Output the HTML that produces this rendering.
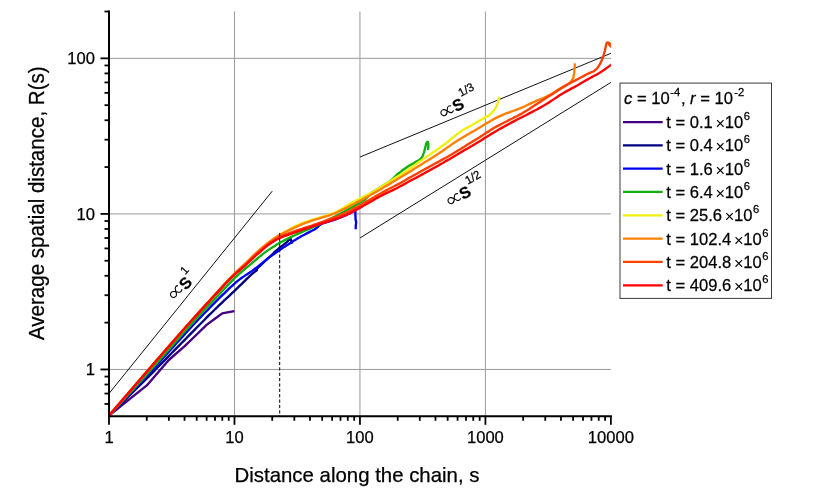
<!DOCTYPE html>
<html><head><meta charset="utf-8"><title>chart</title>
<style>html,body{margin:0;padding:0;background:#fff}svg{display:block;will-change:transform;opacity:0.999}text{font-family:"Liberation Sans",sans-serif;fill:#000;stroke:#000;stroke-width:0.25px}</style></head><body>
<svg width="830" height="503" viewBox="0 0 830 503">
<rect width="830" height="503" fill="#fff"/>
<g stroke="#9a9a9a" stroke-width="1" fill="none">
<line x1="234.47" y1="11.52" x2="234.47" y2="416.28"/>
<line x1="359.94" y1="11.52" x2="359.94" y2="416.28"/>
<line x1="485.41" y1="11.52" x2="485.41" y2="416.28"/>
<line x1="109.00" y1="369.45" x2="610.88" y2="369.45"/>
<line x1="109.00" y1="213.90" x2="610.88" y2="213.90"/>
<line x1="109.00" y1="58.35" x2="610.88" y2="58.35"/>
</g>
<clipPath id="cp"><rect x="109.00" y="9.52" width="501.88" height="406.75"/></clipPath>
<g stroke="#111" stroke-width="1" fill="none">
<line x1="109.00" y1="393.54" x2="272.24" y2="191.17"/>
<line x1="359.94" y1="157.05" x2="610.88" y2="53.35"/>
<line x1="359.94" y1="237.99" x2="610.88" y2="82.44"/>
</g>
<g fill="none" stroke-width="2.35" stroke-linejoin="round" stroke-linecap="butt" clip-path="url(#cp)">
<path d="M109.0 415.6 L146.8 385.4 L168.8 360.0 L184.7 346.1 L196.7 334.5 L206.6 324.9 L214.9 318.7 L222.2 313.4 L228.7 312.2 L234.4 311.2" stroke="#45007f"/>
<path d="M109.0 415.6 L146.8 378.3 L149.3 375.8 L151.8 373.3 L154.3 370.8 L156.8 368.2 L159.3 365.7 L161.8 363.1 L164.3 360.6 L166.8 358.1 L169.3 355.5 L171.8 353.0 L174.3 350.4 L176.8 347.9 L179.3 345.4 L181.8 342.8 L184.3 340.3 L186.8 337.7 L189.3 335.2 L191.8 332.6 L194.3 330.1 L196.8 327.5 L199.3 325.0 L201.8 322.5 L204.3 320.0 L206.8 317.4 L209.3 314.9 L211.8 312.5 L214.3 310.0 L216.8 307.6 L219.3 305.2 L221.8 302.8 L224.3 300.4 L226.8 298.1 L229.3 295.8 L231.8 293.4 L234.3 291.1 L236.8 288.7 L239.3 286.2 L241.8 283.8 L244.3 281.3 L246.8 278.9 L249.3 276.5 L251.8 274.2 L254.3 272.1 L256.8 270.2 L256.9 268.6 L261.0 265.0 L265.0 261.2 L270.0 256.5 L273.7 253.0 L276.5 250.5 L279.6 247.6 L283.0 245.2 L285.0 243.6 L287.0 241.9 L288.8 240.2 L290.3 238.6 L291.2 240.5 L292.3 243.6" stroke="#000080"/>
<path d="M109.0 415.6 L146.8 376.0 L149.3 373.3 L151.8 370.5 L154.3 367.8 L156.8 365.0 L159.3 362.2 L161.8 359.5 L164.3 356.7 L166.8 353.9 L169.3 351.1 L171.8 348.4 L174.3 345.6 L176.8 342.8 L179.3 340.1 L181.8 337.4 L184.3 334.6 L186.8 331.9 L189.3 329.2 L191.8 326.5 L194.3 323.8 L196.8 321.2 L199.3 318.5 L201.8 315.9 L204.3 313.3 L206.8 310.8 L209.3 308.2 L211.8 305.6 L214.3 303.1 L216.8 300.6 L219.3 298.2 L221.8 295.7 L224.3 293.3 L226.8 290.8 L229.3 288.4 L231.8 286.1 L234.3 283.8 L236.8 281.6 L239.3 279.6 L241.8 277.8 L244.3 276.1 L246.8 274.4 L249.3 272.8 L251.8 271.1 L254.3 269.3 L256.8 267.4 L259.3 265.4 L261.8 263.4 L264.3 261.3 L266.8 259.3 L269.3 257.4 L271.8 255.6 L274.3 253.8 L276.8 252.0 L279.3 250.3 L281.8 248.6 L284.3 246.9 L286.8 245.3 L289.3 243.7 L291.8 242.1 L294.3 240.4 L296.8 238.9 L299.3 237.5 L301.8 236.0 L304.3 234.7 L306.8 233.4 L309.3 232.1 L311.8 230.8 L314.3 229.6 L316.8 227.8 L319.3 225.4 L321.8 223.7 L324.3 222.9 L326.8 222.2 L329.3 221.4 L331.8 220.6 L334.3 219.8 L336.8 218.9 L339.3 218.0 L341.8 216.9 L344.3 215.9 L346.8 214.8 L349.3 213.6 L351.8 212.3 L354.3 210.8 L355.3 209.9 L355.4 214.4 L355.6 219.9 L356.2 221.9 L355.8 225.4 L355.7 229.2" stroke="#0000f0"/>
<path d="M109.0 415.6 L146.8 374.4 L149.3 371.6 L151.8 368.8 L154.3 365.9 L156.8 363.1 L159.3 360.3 L161.8 357.4 L164.3 354.6 L166.8 351.7 L169.3 348.9 L171.8 346.1 L174.3 343.2 L176.8 340.4 L179.3 337.6 L181.8 334.8 L184.3 332.0 L186.8 329.2 L189.3 326.4 L191.8 323.6 L194.3 320.9 L196.8 318.1 L199.3 315.4 L201.8 312.6 L204.3 309.9 L206.8 307.2 L209.3 304.6 L211.8 302.0 L214.3 299.4 L216.8 296.7 L219.3 294.1 L221.8 291.5 L224.3 288.9 L226.8 286.3 L229.3 283.6 L231.8 281.1 L234.3 278.5 L236.8 276.1 L239.3 273.9 L241.8 271.6 L244.3 269.5 L246.8 267.4 L249.3 265.4 L251.8 263.3 L254.3 261.2 L256.8 259.0 L259.3 256.9 L261.8 254.9 L264.3 252.9 L266.8 251.1 L269.3 249.4 L271.8 247.7 L274.3 246.2 L276.8 244.6 L279.3 243.1 L281.8 241.7 L284.3 240.4 L286.8 239.1 L289.3 237.8 L291.8 236.6 L294.3 235.5 L296.8 234.3 L299.3 233.2 L301.8 232.1 L304.3 231.0 L306.8 229.9 L309.3 228.8 L311.8 227.7 L314.3 226.5 L316.8 225.4 L319.3 224.3 L321.8 223.1 L324.3 221.9 L326.8 220.6 L329.3 219.3 L331.8 218.1 L334.3 216.8 L336.8 215.5 L339.3 214.2 L341.8 212.8 L344.3 211.5 L346.8 210.1 L349.3 208.7 L351.8 207.3 L354.3 205.9 L356.8 204.5 L359.3 203.0 L361.8 201.5 L364.3 200.0 L366.8 197.9 L369.3 195.1 L371.8 192.6 L374.3 191.1 L376.8 189.6 L379.3 188.0 L381.8 186.4 L384.3 184.8 L386.8 183.3 L389.3 181.7 L391.8 179.8 L394.3 177.3 L396.8 174.7 L399.3 172.8 L401.8 170.8 L404.3 169.0 L406.8 167.2 L409.3 165.6 L411.8 164.2 L414.3 163.1 L414.8 162.2 L418.8 160.4 L421.6 158.0 L423.1 155.0 L424.1 152.0 L425.4 147.0 L426.3 143.4 L427.2 142.0 L428.0 142.0 L428.4 145.0 L428.0 150.0" stroke="#10b010"/>
<path d="M109.0 415.6 L146.8 371.6 L149.3 368.8 L151.8 365.9 L154.3 363.0 L156.8 360.1 L159.3 357.3 L161.8 354.4 L164.3 351.5 L166.8 348.7 L169.3 345.8 L171.8 342.9 L174.3 340.1 L176.8 337.3 L179.3 334.4 L181.8 331.6 L184.3 328.8 L186.8 326.0 L189.3 323.1 L191.8 320.3 L194.3 317.6 L196.8 314.8 L199.3 312.0 L201.8 309.2 L204.3 306.4 L206.8 303.7 L209.3 301.0 L211.8 298.2 L214.3 295.5 L216.8 292.8 L219.3 290.0 L221.8 287.2 L224.3 284.4 L226.8 281.7 L229.3 279.1 L231.8 276.5 L234.3 273.9 L236.8 271.5 L239.3 269.1 L241.8 266.8 L244.3 264.5 L246.8 262.1 L249.3 259.6 L251.8 257.2 L254.3 254.8 L256.8 252.5 L259.3 250.3 L261.8 248.1 L264.3 245.9 L266.8 243.9 L269.3 242.0 L271.8 240.2 L274.3 238.4 L276.8 236.8 L279.3 235.2 L281.8 233.8 L284.3 232.3 L286.8 230.9 L289.3 229.4 L291.8 227.9 L294.3 226.7 L296.8 225.6 L299.3 224.4 L301.8 223.4 L304.3 222.4 L306.8 221.5 L309.3 220.7 L311.8 219.9 L314.3 219.1 L316.8 218.4 L319.3 217.6 L321.8 216.9 L324.3 216.1 L326.8 215.4 L329.3 214.6 L331.8 213.7 L334.3 212.8 L336.8 211.6 L339.3 210.2 L341.8 208.7 L344.3 207.2 L346.8 205.7 L349.3 204.2 L351.8 202.8 L354.3 201.5 L356.8 200.1 L359.3 198.8 L361.8 197.5 L364.3 196.3 L366.8 195.1 L369.3 193.8 L371.8 192.5 L374.3 191.1 L376.8 189.6 L379.3 188.0 L381.8 186.4 L384.3 184.8 L386.8 183.3 L389.3 181.7 L391.8 180.2 L394.3 178.6 L396.8 177.1 L399.3 175.6 L401.8 174.0 L404.3 172.4 L406.8 170.7 L409.3 169.0 L411.8 167.2 L414.3 165.4 L416.8 163.6 L419.3 161.8 L421.8 160.1 L424.3 158.4 L426.8 156.6 L429.3 154.9 L431.8 153.2 L434.3 151.5 L436.8 149.8 L439.3 148.1 L441.8 146.3 L444.3 144.5 L446.8 142.6 L449.3 140.5 L451.8 138.4 L454.3 136.4 L456.8 134.4 L459.3 132.5 L461.8 130.8 L464.3 129.3 L466.8 127.9 L469.3 126.5 L471.8 125.2 L474.3 123.8 L476.8 122.3 L479.3 120.8 L481.8 119.4 L484.3 117.9 L486.8 116.6 L489.3 115.4 L489.9 114.3 L492.0 112.5 L493.9 110.4 L495.4 108.2 L496.4 106.4 L497.3 104.1 L497.9 102.4 L498.9 98.9 L499.4 96.9" stroke="#f0f010"/>
<path d="M109.0 415.6 L146.8 371.6 L149.3 368.7 L151.8 365.8 L154.3 362.9 L156.8 360.0 L159.3 357.2 L161.8 354.3 L164.3 351.4 L166.8 348.6 L169.3 345.7 L171.8 342.8 L174.3 340.0 L176.8 337.2 L179.3 334.3 L181.8 331.5 L184.3 328.7 L186.8 325.9 L189.3 323.0 L191.8 320.2 L194.3 317.5 L196.8 314.7 L199.3 311.9 L201.8 309.1 L204.3 306.3 L206.8 303.6 L209.3 300.9 L211.8 298.1 L214.3 295.4 L216.8 292.7 L219.3 289.9 L221.8 287.1 L224.3 284.3 L226.8 281.6 L229.3 279.0 L231.8 276.4 L234.3 273.8 L236.8 271.4 L239.3 269.0 L241.8 266.7 L244.3 264.4 L246.8 262.0 L249.3 259.5 L251.8 257.1 L254.3 254.7 L256.8 252.4 L259.3 250.2 L261.8 248.0 L264.3 245.8 L266.8 243.8 L269.3 241.9 L271.8 240.1 L274.3 238.3 L276.8 236.7 L279.3 235.1 L281.8 233.8 L284.3 232.5 L286.8 231.3 L289.3 230.1 L291.8 228.9 L294.3 227.7 L296.8 226.6 L299.3 225.5 L301.8 224.4 L304.3 223.4 L306.8 222.5 L309.3 221.6 L311.8 220.7 L314.3 219.9 L316.8 219.1 L319.3 218.4 L321.8 217.6 L324.3 216.8 L326.8 216.1 L329.3 215.3 L331.8 214.4 L334.3 213.5 L336.8 212.5 L339.3 211.3 L341.8 210.1 L344.3 208.8 L346.8 207.6 L349.3 206.3 L351.8 205.0 L354.3 203.8 L356.8 202.4 L359.3 201.1 L361.8 199.7 L364.3 198.4 L366.8 197.0 L369.3 195.7 L371.8 194.3 L374.3 192.9 L376.8 191.5 L379.3 190.0 L381.8 188.6 L384.3 187.1 L386.8 185.6 L389.3 184.2 L391.8 182.6 L394.3 181.1 L396.8 179.6 L399.3 178.1 L401.8 176.6 L404.3 175.0 L406.8 173.5 L409.3 171.9 L411.8 170.4 L414.3 168.8 L416.8 167.2 L419.3 165.7 L421.8 164.2 L424.3 162.6 L426.8 161.1 L429.3 159.5 L431.8 158.0 L434.3 156.4 L436.8 154.8 L439.3 153.1 L441.8 151.5 L444.3 149.7 L446.8 147.9 L449.3 146.2 L451.8 144.4 L454.3 142.7 L456.8 141.1 L459.3 139.5 L461.8 138.0 L464.3 136.4 L466.8 134.9 L469.3 133.5 L471.8 132.1 L474.3 130.7 L476.8 129.2 L479.3 127.7 L481.8 126.2 L484.3 124.6 L486.8 123.1 L489.3 121.7 L491.8 120.2 L494.3 118.9 L496.8 117.6 L499.3 116.4 L501.8 115.3 L504.3 114.2 L506.8 113.2 L509.3 112.3 L511.8 111.4 L514.3 110.5 L516.8 109.6 L519.3 108.7 L521.8 107.6 L524.3 106.5 L526.8 105.3 L529.3 104.1 L531.8 102.9 L534.3 101.8 L536.8 100.7 L539.3 99.7 L541.8 98.7 L544.3 97.6 L546.8 96.4 L549.3 95.1 L551.8 93.7 L554.3 92.2 L556.8 90.6 L559.3 89.0 L561.8 87.4 L564.3 86.0 L566.8 84.7 L569.3 83.5 L570.0 82.5 L572.0 80.4 L573.4 77.5 L574.2 72.7 L574.6 68.2 L574.9 63.4" stroke="#ff8000"/>
<path d="M109.0 415.6 L146.8 371.7 L149.3 368.8 L151.8 365.9 L154.3 363.0 L156.8 360.1 L159.3 357.3 L161.8 354.4 L164.3 351.5 L166.8 348.6 L169.3 345.8 L171.8 342.9 L174.3 340.1 L176.8 337.2 L179.3 334.4 L181.8 331.5 L184.3 328.7 L186.8 325.9 L189.3 323.1 L191.8 320.3 L194.3 317.5 L196.8 314.7 L199.3 311.9 L201.8 309.2 L204.3 306.4 L206.8 303.7 L209.3 301.0 L211.8 298.3 L214.3 295.6 L216.8 292.8 L219.3 290.1 L221.8 287.4 L224.3 284.6 L226.8 282.0 L229.3 279.4 L231.8 276.9 L234.3 274.4 L236.8 272.1 L239.3 269.8 L241.8 267.7 L244.3 265.5 L246.8 263.2 L249.3 260.8 L251.8 258.4 L254.3 256.1 L256.8 253.8 L259.3 251.7 L261.8 249.4 L264.3 247.3 L266.8 245.2 L269.3 243.3 L271.8 241.6 L274.3 240.0 L276.8 238.4 L279.3 237.0 L281.8 235.8 L284.3 234.8 L286.8 233.8 L289.3 233.0 L291.8 232.2 L294.3 231.3 L296.8 230.4 L299.3 229.6 L301.8 228.8 L304.3 227.9 L306.8 227.1 L309.3 226.3 L311.8 225.5 L314.3 224.6 L316.8 223.8 L319.3 222.9 L321.8 222.0 L324.3 221.1 L326.8 220.2 L329.3 219.3 L331.8 218.4 L334.3 217.4 L336.8 216.5 L339.3 215.5 L341.8 214.4 L344.3 213.3 L346.8 212.2 L349.3 211.0 L351.8 209.7 L354.3 208.4 L356.8 207.1 L359.3 205.7 L361.8 204.2 L364.3 202.8 L366.8 201.4 L369.3 200.0 L371.8 198.5 L374.3 197.1 L376.8 195.6 L379.3 194.2 L381.8 192.8 L384.3 191.4 L386.8 190.1 L389.3 188.8 L391.8 187.5 L394.3 186.3 L396.8 184.9 L399.3 183.6 L401.8 182.2 L404.3 180.8 L406.8 179.3 L409.3 177.9 L411.8 176.5 L414.3 175.1 L416.8 173.7 L419.3 172.3 L421.8 170.9 L424.3 169.5 L426.8 168.1 L429.3 166.7 L431.8 165.4 L434.3 164.0 L436.8 162.6 L439.3 161.3 L441.8 159.9 L444.3 158.5 L446.8 157.2 L449.3 155.7 L451.8 154.3 L454.3 152.8 L456.8 151.3 L459.3 149.8 L461.8 148.2 L464.3 146.7 L466.8 145.1 L469.3 143.6 L471.8 142.0 L474.3 140.4 L476.8 138.9 L479.3 137.4 L481.8 135.8 L484.3 134.1 L486.8 132.5 L489.3 130.9 L491.8 129.3 L494.3 127.8 L496.8 126.4 L499.3 125.1 L501.8 123.8 L504.3 122.5 L506.8 121.2 L509.3 119.9 L511.8 118.7 L514.3 117.4 L516.8 116.2 L519.3 114.9 L521.8 113.6 L524.3 112.1 L526.8 110.6 L529.3 109.0 L531.8 107.3 L534.3 105.6 L536.8 104.0 L539.3 102.4 L541.8 100.8 L544.3 99.2 L546.8 97.6 L549.3 96.0 L551.8 94.4 L554.3 92.8 L556.8 91.2 L559.3 89.5 L561.8 87.9 L564.3 86.4 L566.8 84.9 L569.3 83.5 L571.8 82.2 L574.3 80.9 L576.8 79.6 L579.3 78.3 L581.8 77.0 L584.3 75.6 L586.8 74.3 L589.3 73.1 L591.8 72.0 L594.3 71.1 L594.8 70.3 L596.8 68.9 L599.8 64.4 L602.8 58.0 L604.8 51.0 L606.3 43.7 L607.2 42.5 L608.5 42.6 L609.7 43.4 L611.5 45.0 L611.5 46.5 L609.2 44.6 L611.5 47.2" stroke="#ff4000"/>
<path d="M109.0 415.6 L146.8 371.8 L149.3 368.9 L151.8 366.0 L154.3 363.1 L156.8 360.2 L159.3 357.4 L161.8 354.5 L164.3 351.6 L166.8 348.7 L169.3 345.9 L171.8 343.0 L174.3 340.2 L176.8 337.3 L179.3 334.5 L181.8 331.6 L184.3 328.8 L186.8 326.0 L189.3 323.2 L191.8 320.4 L194.3 317.6 L196.8 314.9 L199.3 312.1 L201.8 309.4 L204.3 306.6 L206.8 303.9 L209.3 301.2 L211.8 298.5 L214.3 295.8 L216.8 293.1 L219.3 290.4 L221.8 287.7 L224.3 285.0 L226.8 282.4 L229.3 279.9 L231.8 277.4 L234.3 275.0 L236.8 272.7 L239.3 270.5 L241.8 268.4 L244.3 266.3 L246.8 264.0 L249.3 261.6 L251.8 259.3 L254.3 257.0 L256.8 254.7 L259.3 252.6 L261.8 250.3 L264.3 248.2 L266.8 246.1 L269.3 244.3 L271.8 242.6 L274.3 241.0 L276.8 239.5 L279.3 238.2 L281.8 237.1 L284.3 236.1 L286.8 235.3 L289.3 234.4 L291.8 233.7 L294.3 232.7 L296.8 231.8 L299.3 230.9 L301.8 230.0 L304.3 229.2 L306.8 228.3 L309.3 227.5 L311.8 226.6 L314.3 225.8 L316.8 225.0 L319.3 224.2 L321.8 223.4 L324.3 222.7 L326.8 222.0 L329.3 221.2 L331.8 220.4 L334.3 219.6 L336.8 218.7 L339.3 217.8 L341.8 216.7 L344.3 215.7 L346.8 214.6 L349.3 213.4 L351.8 212.1 L354.3 210.9 L356.8 209.5 L359.3 208.1 L361.8 206.7 L364.3 205.3 L366.8 203.9 L369.3 202.5 L371.8 201.0 L374.3 199.6 L376.8 198.1 L379.3 196.7 L381.8 195.4 L384.3 194.1 L386.8 192.9 L389.3 191.8 L391.8 190.6 L394.3 189.4 L396.8 188.2 L399.3 186.8 L401.8 185.5 L404.3 184.1 L406.8 182.7 L409.3 181.3 L411.8 180.0 L414.3 178.7 L416.8 177.4 L419.3 176.0 L421.8 174.6 L424.3 173.3 L426.8 171.9 L429.3 170.5 L431.8 169.1 L434.3 167.8 L436.8 166.4 L439.3 164.9 L441.8 163.5 L444.3 162.1 L446.8 160.6 L449.3 159.2 L451.8 157.7 L454.3 156.2 L456.8 154.8 L459.3 153.3 L461.8 151.8 L464.3 150.3 L466.8 148.9 L469.3 147.4 L471.8 146.0 L474.3 144.5 L476.8 143.0 L479.3 141.5 L481.8 139.9 L484.3 138.3 L486.8 136.7 L489.3 135.2 L491.8 133.6 L494.3 132.2 L496.8 130.7 L499.3 129.3 L501.8 127.9 L504.3 126.5 L506.8 125.1 L509.3 123.7 L511.8 122.4 L514.3 121.1 L516.8 119.8 L519.3 118.5 L521.8 117.3 L524.3 116.0 L526.8 114.7 L529.3 113.4 L531.8 112.1 L534.3 110.8 L536.8 109.5 L539.3 108.1 L541.8 106.7 L544.3 105.3 L546.8 103.8 L549.3 102.2 L551.8 100.6 L554.3 98.9 L556.8 97.2 L559.3 95.6 L561.8 94.0 L564.3 92.5 L566.8 91.1 L569.3 89.7 L571.8 88.4 L574.3 87.1 L576.8 85.7 L579.3 84.3 L581.8 82.8 L584.3 81.3 L586.8 79.9 L589.3 78.5 L591.8 77.1 L594.3 75.8 L596.8 74.5 L599.3 73.0 L601.8 71.4 L604.3 69.7 L606.8 67.9 L609.3 66.1 L611.5 64.3" stroke="#ff0000"/>
</g>
<line x1="279.7" y1="233" x2="279.7" y2="416.28" stroke="#000" stroke-width="1" stroke-dasharray="3.3 2.07"/>
<g stroke="#000" stroke-width="2" fill="none">
<line x1="109.00" y1="10.52" x2="109.00" y2="417.28"/>
<line x1="108.00" y1="416.28" x2="611.88" y2="416.28"/>
</g>
<g stroke="#000" stroke-width="1.8" fill="none">
<line x1="109.00" y1="416.28" x2="109.00" y2="424.78"/>
<line x1="146.77" y1="416.28" x2="146.77" y2="420.78"/>
<line x1="168.86" y1="416.28" x2="168.86" y2="420.78"/>
<line x1="184.54" y1="416.28" x2="184.54" y2="420.78"/>
<line x1="196.70" y1="416.28" x2="196.70" y2="420.78"/>
<line x1="206.63" y1="416.28" x2="206.63" y2="420.78"/>
<line x1="215.03" y1="416.28" x2="215.03" y2="420.78"/>
<line x1="222.31" y1="416.28" x2="222.31" y2="420.78"/>
<line x1="228.73" y1="416.28" x2="228.73" y2="420.78"/>
<line x1="234.47" y1="416.28" x2="234.47" y2="424.78"/>
<line x1="272.24" y1="416.28" x2="272.24" y2="420.78"/>
<line x1="294.33" y1="416.28" x2="294.33" y2="420.78"/>
<line x1="310.01" y1="416.28" x2="310.01" y2="420.78"/>
<line x1="322.17" y1="416.28" x2="322.17" y2="420.78"/>
<line x1="332.10" y1="416.28" x2="332.10" y2="420.78"/>
<line x1="340.50" y1="416.28" x2="340.50" y2="420.78"/>
<line x1="347.78" y1="416.28" x2="347.78" y2="420.78"/>
<line x1="354.20" y1="416.28" x2="354.20" y2="420.78"/>
<line x1="359.94" y1="416.28" x2="359.94" y2="424.78"/>
<line x1="397.71" y1="416.28" x2="397.71" y2="420.78"/>
<line x1="419.80" y1="416.28" x2="419.80" y2="420.78"/>
<line x1="435.48" y1="416.28" x2="435.48" y2="420.78"/>
<line x1="447.64" y1="416.28" x2="447.64" y2="420.78"/>
<line x1="457.57" y1="416.28" x2="457.57" y2="420.78"/>
<line x1="465.97" y1="416.28" x2="465.97" y2="420.78"/>
<line x1="473.25" y1="416.28" x2="473.25" y2="420.78"/>
<line x1="479.67" y1="416.28" x2="479.67" y2="420.78"/>
<line x1="485.41" y1="416.28" x2="485.41" y2="424.78"/>
<line x1="523.18" y1="416.28" x2="523.18" y2="420.78"/>
<line x1="545.27" y1="416.28" x2="545.27" y2="420.78"/>
<line x1="560.95" y1="416.28" x2="560.95" y2="420.78"/>
<line x1="573.11" y1="416.28" x2="573.11" y2="420.78"/>
<line x1="583.04" y1="416.28" x2="583.04" y2="420.78"/>
<line x1="591.44" y1="416.28" x2="591.44" y2="420.78"/>
<line x1="598.72" y1="416.28" x2="598.72" y2="420.78"/>
<line x1="605.14" y1="416.28" x2="605.14" y2="420.78"/>
<line x1="610.88" y1="416.28" x2="610.88" y2="424.78"/>
<line x1="109.00" y1="403.96" x2="104.50" y2="403.96"/>
<line x1="109.00" y1="393.54" x2="104.50" y2="393.54"/>
<line x1="109.00" y1="384.52" x2="104.50" y2="384.52"/>
<line x1="109.00" y1="376.57" x2="104.50" y2="376.57"/>
<line x1="109.00" y1="369.45" x2="100.50" y2="369.45"/>
<line x1="109.00" y1="322.62" x2="104.50" y2="322.62"/>
<line x1="109.00" y1="295.23" x2="104.50" y2="295.23"/>
<line x1="109.00" y1="275.80" x2="104.50" y2="275.80"/>
<line x1="109.00" y1="260.73" x2="104.50" y2="260.73"/>
<line x1="109.00" y1="248.41" x2="104.50" y2="248.41"/>
<line x1="109.00" y1="237.99" x2="104.50" y2="237.99"/>
<line x1="109.00" y1="228.97" x2="104.50" y2="228.97"/>
<line x1="109.00" y1="221.02" x2="104.50" y2="221.02"/>
<line x1="109.00" y1="213.90" x2="100.50" y2="213.90"/>
<line x1="109.00" y1="167.07" x2="104.50" y2="167.07"/>
<line x1="109.00" y1="139.68" x2="104.50" y2="139.68"/>
<line x1="109.00" y1="120.25" x2="104.50" y2="120.25"/>
<line x1="109.00" y1="105.18" x2="104.50" y2="105.18"/>
<line x1="109.00" y1="92.86" x2="104.50" y2="92.86"/>
<line x1="109.00" y1="82.44" x2="104.50" y2="82.44"/>
<line x1="109.00" y1="73.42" x2="104.50" y2="73.42"/>
<line x1="109.00" y1="65.47" x2="104.50" y2="65.47"/>
<line x1="109.00" y1="58.35" x2="100.50" y2="58.35"/>
<line x1="109.00" y1="11.52" x2="104.50" y2="11.52"/>
</g>
<g font-size="16.6" text-anchor="middle">
<text transform="matrix(1 0 0 1.0 0 0.000)" x="109.00" y="443">1</text>
<text transform="matrix(1 0 0 1.0 0 0.000)" x="234.47" y="443">10</text>
<text transform="matrix(1 0 0 1.0 0 0.000)" x="359.94" y="443">100</text>
<text transform="matrix(1 0 0 1.0 0 0.000)" x="485.41" y="443">1000</text>
<text transform="matrix(1 0 0 1.0 0 0.000)" x="610.88" y="443">10000</text>
</g>
<g font-size="16.6" text-anchor="end">
<text transform="matrix(1 0 0 1.0 0 0.000)" x="95" y="375.45">1</text>
<text transform="matrix(1 0 0 1.0 0 0.000)" x="95" y="219.90">10</text>
<text transform="matrix(1 0 0 1.0 0 0.000)" x="95" y="64.35">100</text>
</g>
<text transform="matrix(1 0 0 1.0 0 0.000)" x="357" y="482" font-size="20.4" text-anchor="middle">Distance along the chain, s</text>
<text transform="translate(43.7 203.2) rotate(-90) scale(1 1.04)" font-size="20.55" text-anchor="middle">Average spatial distance, R(s)</text>
<g transform="translate(173.6 294.4) rotate(-48)">
<path transform="scale(1 -1)" d="M9.4,2.6 C8.8,3.3 8.0,3.6 7.0,3.6 C5.4,3.6 4.6,1.6 3.6,0 C2.6,-1.6 1.6,-3.1 0,-3.1 C-1.7,-3.1 -3.1,-1.7 -3.1,0 C-3.1,1.7 -1.7,3.1 0,3.1 C1.6,3.1 2.6,1.6 3.6,0 C4.6,-1.6 5.4,-3.6 7.0,-3.6 C8.0,-3.6 8.8,-3.3 9.4,-2.6" fill="none" stroke="#000" stroke-width="1.1"/>
<text x="11" y="6.9" font-size="16" font-weight="bold">S</text>
<text x="21.9" y="-4.20" font-size="11.6">1</text>
</g>
<g transform="translate(444.0 112.6) rotate(-28)">
<path transform="scale(1 -1)" d="M9.4,2.6 C8.8,3.3 8.0,3.6 7.0,3.6 C5.4,3.6 4.6,1.6 3.6,0 C2.6,-1.6 1.6,-3.1 0,-3.1 C-1.7,-3.1 -3.1,-1.7 -3.1,0 C-3.1,1.7 -1.7,3.1 0,3.1 C1.6,3.1 2.6,1.6 3.6,0 C4.6,-1.6 5.4,-3.6 7.0,-3.6 C8.0,-3.6 8.8,-3.3 9.4,-2.6" fill="none" stroke="#000" stroke-width="1.1"/>
<text x="10.8" y="5.2" font-size="16" font-weight="bold">S</text>
<text x="22.2" y="-5.90" font-size="11.6">1/3</text>
</g>
<g transform="translate(451.1 200.6) rotate(-29)">
<path transform="scale(1 -1)" d="M9.4,2.6 C8.8,3.3 8.0,3.6 7.0,3.6 C5.4,3.6 4.6,1.6 3.6,0 C2.6,-1.6 1.6,-3.1 0,-3.1 C-1.7,-3.1 -3.1,-1.7 -3.1,0 C-3.1,1.7 -1.7,3.1 0,3.1 C1.6,3.1 2.6,1.6 3.6,0 C4.6,-1.6 5.4,-3.6 7.0,-3.6 C8.0,-3.6 8.8,-3.3 9.4,-2.6" fill="none" stroke="#000" stroke-width="1.1"/>
<text x="10.8" y="5.2" font-size="16" font-weight="bold">S</text>
<text x="22.2" y="-5.90" font-size="11.6">1/2</text>
</g>
<rect x="620.0" y="83.1" width="151.5" height="215.3" fill="#fff" stroke="#3a3a3a" stroke-width="1"/>
<text transform="matrix(1 0 0 1.035 0 -3.647)" x="624" y="104.2" font-size="16.6"><tspan font-style="italic">c</tspan> = 10<tspan dx="0.6" dy="-7.7" font-size="11.2">-4</tspan><tspan dx="0.7" dy="7.7">, </tspan><tspan font-style="italic">r</tspan> = 10<tspan dx="1.2" dy="-7.7" font-size="11.2">-2</tspan></text>
<line x1="623" y1="122.00" x2="662.7" y2="122.00" stroke="#45007f" stroke-width="2.25"/>
<text transform="matrix(1 0 0 1.035 0 -4.480)" x="666.3" y="128.00" font-size="16.6">t = 0.1<tspan font-size="16.4" dx="2.6" dy="1.1" stroke-width="0">×</tspan><tspan dx="-0.2" dy="-1.1">10</tspan><tspan dx="0.4" dy="-7.7" font-size="11.2">6</tspan></text>
<line x1="623" y1="145.33" x2="662.7" y2="145.33" stroke="#000080" stroke-width="2.25"/>
<text transform="matrix(1 0 0 1.035 0 -5.297)" x="666.3" y="151.33" font-size="16.6">t = 0.4<tspan font-size="16.4" dx="2.6" dy="1.1" stroke-width="0">×</tspan><tspan dx="-0.2" dy="-1.1">10</tspan><tspan dx="0.4" dy="-7.7" font-size="11.2">6</tspan></text>
<line x1="623" y1="168.66" x2="662.7" y2="168.66" stroke="#0000f0" stroke-width="2.25"/>
<text transform="matrix(1 0 0 1.035 0 -6.113)" x="666.3" y="174.66" font-size="16.6">t = 1.6<tspan font-size="16.4" dx="2.6" dy="1.1" stroke-width="0">×</tspan><tspan dx="-0.2" dy="-1.1">10</tspan><tspan dx="0.4" dy="-7.7" font-size="11.2">6</tspan></text>
<line x1="623" y1="191.99" x2="662.7" y2="191.99" stroke="#10b010" stroke-width="2.25"/>
<text transform="matrix(1 0 0 1.035 0 -6.930)" x="666.3" y="197.99" font-size="16.6">t = 6.4<tspan font-size="16.4" dx="2.6" dy="1.1" stroke-width="0">×</tspan><tspan dx="-0.2" dy="-1.1">10</tspan><tspan dx="0.4" dy="-7.7" font-size="11.2">6</tspan></text>
<line x1="623" y1="215.32" x2="662.7" y2="215.32" stroke="#f0f010" stroke-width="2.25"/>
<text transform="matrix(1 0 0 1.035 0 -7.746)" x="666.3" y="221.32" font-size="16.6">t = 25.6<tspan font-size="16.4" dx="2.6" dy="1.1" stroke-width="0">×</tspan><tspan dx="-0.2" dy="-1.1">10</tspan><tspan dx="0.4" dy="-7.7" font-size="11.2">6</tspan></text>
<line x1="623" y1="238.65" x2="662.7" y2="238.65" stroke="#ff8000" stroke-width="2.25"/>
<text transform="matrix(1 0 0 1.035 0 -8.563)" x="666.3" y="244.65" font-size="16.6">t = 102.4<tspan font-size="16.4" dx="2.6" dy="1.1" stroke-width="0">×</tspan><tspan dx="-0.2" dy="-1.1">10</tspan><tspan dx="0.4" dy="-7.7" font-size="11.2">6</tspan></text>
<line x1="623" y1="261.98" x2="662.7" y2="261.98" stroke="#ff4000" stroke-width="2.25"/>
<text transform="matrix(1 0 0 1.035 0 -9.379)" x="666.3" y="267.98" font-size="16.6">t = 204.8<tspan font-size="16.4" dx="2.6" dy="1.1" stroke-width="0">×</tspan><tspan dx="-0.2" dy="-1.1">10</tspan><tspan dx="0.4" dy="-7.7" font-size="11.2">6</tspan></text>
<line x1="623" y1="285.31" x2="662.7" y2="285.31" stroke="#ff0000" stroke-width="2.25"/>
<text transform="matrix(1 0 0 1.035 0 -10.196)" x="666.3" y="291.31" font-size="16.6">t = 409.6<tspan font-size="16.4" dx="2.6" dy="1.1" stroke-width="0">×</tspan><tspan dx="-0.2" dy="-1.1">10</tspan><tspan dx="0.4" dy="-7.7" font-size="11.2">6</tspan></text>
</svg></body></html>
